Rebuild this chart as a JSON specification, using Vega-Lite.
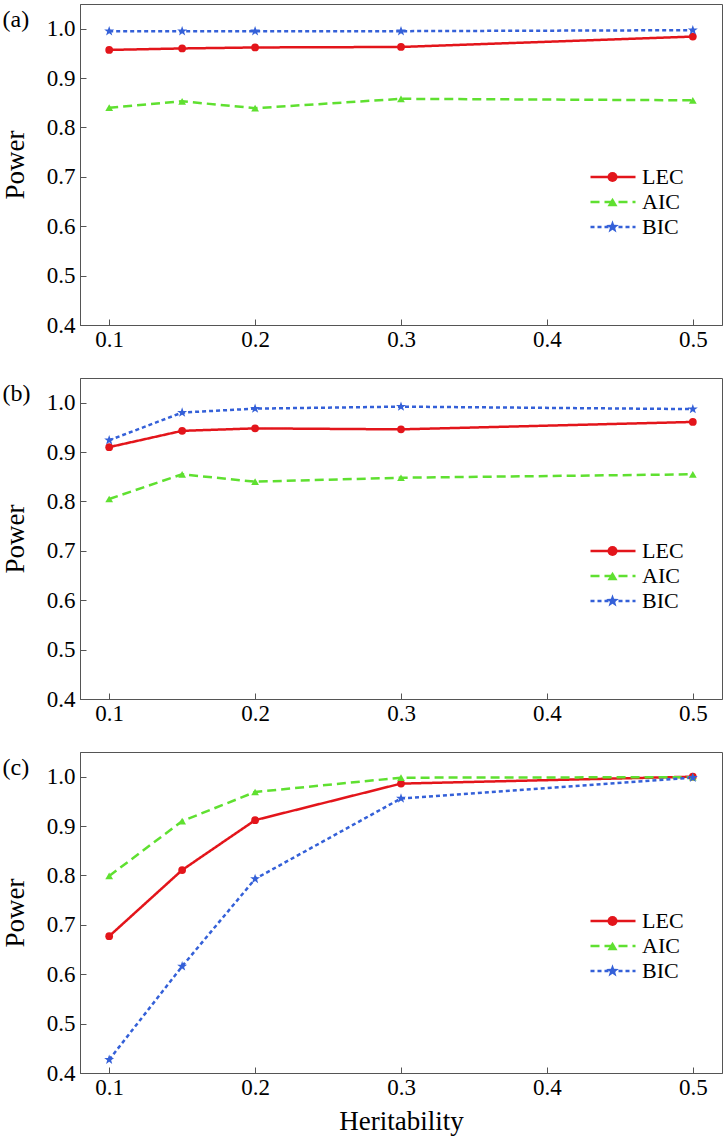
{
  "$schema": "https://vega.github.io/schema/vega-lite/v6.json",
  "padding": {"top": 3, "left": 0, "right": 0, "bottom": 3},
  "background": "white",
  "bounds": "flush",
  "spacing": 53,
  "resolve": {
    "scale": {"color": "independent", "strokeDash": "independent", "shape": "independent", "fill": "independent"},
    "legend": {"color": "independent", "strokeDash": "independent", "shape": "independent", "fill": "independent"}
  },
  "config": {
    "font": "Liberation Serif",
    "view": {"stroke": "#555555", "strokeWidth": 1},
    "axis": {
      "grid": false, "domainColor": "#555555", "tickColor": "#555555", "tickSize": -6,
      "labelFont": "Liberation Serif", "labelFontSize": 23, "labelColor": "black",
      "labelFlush": false, "labelOverlap": false,
      "titleFont": "Liberation Serif", "titleFontSize": 27, "titleFontWeight": "normal", "titleColor": "black"
    },
    "axisX": {"labelPadding": 9},
    "axisY": {"labelPadding": 11},
    "legend": {"labelFont": "Liberation Serif", "labelFontSize": 22, "labelColor": "black"}
  },
  "vconcat": [
    {
      "width": 642, "height": 321,
      "data": {"values": [
        {"h": 0.1, "method": "LEC", "order": 1, "power": 0.957},
        {"h": 0.15, "method": "LEC", "order": 1, "power": 0.960},
        {"h": 0.2, "method": "LEC", "order": 1, "power": 0.962},
        {"h": 0.3, "method": "LEC", "order": 1, "power": 0.963},
        {"h": 0.5, "method": "LEC", "order": 1, "power": 0.984},
        {"h": 0.1, "method": "AIC", "order": 2, "power": 0.840},
        {"h": 0.15, "method": "AIC", "order": 2, "power": 0.853},
        {"h": 0.2, "method": "AIC", "order": 2, "power": 0.839},
        {"h": 0.3, "method": "AIC", "order": 2, "power": 0.858},
        {"h": 0.5, "method": "AIC", "order": 2, "power": 0.855},
        {"h": 0.1, "method": "BIC", "order": 3, "power": 0.995},
        {"h": 0.15, "method": "BIC", "order": 3, "power": 0.995},
        {"h": 0.2, "method": "BIC", "order": 3, "power": 0.995},
        {"h": 0.3, "method": "BIC", "order": 3, "power": 0.995},
        {"h": 0.5, "method": "BIC", "order": 3, "power": 0.997}
      ]},
      "resolve": {"axis": {"x": "independent"}},
      "layer": [
        {
          "mark": {"type": "line", "strokeWidth": 2.5},
          "encoding": {
            "x": {"field": "h", "type": "quantitative", "scale": {"domain": [0.08, 0.52], "nice": false, "zero": false}, "axis": {"values": [0.1, 0.2, 0.3, 0.4, 0.5], "format": ".1f"}, "title": null},
            "y": {"field": "power", "type": "quantitative", "scale": {"domain": [0.4, 1.05], "nice": false, "zero": false}, "axis": {"values": [0.4, 0.5, 0.6, 0.7, 0.8, 0.9, 1.0], "format": ".1f", "titlePadding": 17}, "title": "Power"},
            "color": {"field": "method", "type": "nominal", "scale": {"domain": ["LEC", "AIC", "BIC"], "range": ["#e3151b", "#5fe030", "#3460d8"]},
              "legend": {"orient": "none", "legendX": 522, "legendY": 162, "title": null, "symbolType": "M-2.5,0L2.5,0", "symbolSize": 324, "symbolStrokeWidth": 2.5, "labelOffset": 18, "rowPadding": 3}},
            "strokeDash": {"field": "method", "type": "nominal", "scale": {"domain": ["LEC", "AIC", "BIC"], "range": [[1, 0], [9, 5], [4, 3]]}}
          }
        },
        {
          "mark": {"type": "point", "filled": true, "size": 60, "opacity": 1, "strokeWidth": 0},
          "encoding": {
            "x": {"field": "h", "type": "quantitative", "axis": {"orient": "top", "labels": false, "ticks": false, "domain": false, "title": "(a)", "titleX": -78, "titleY": 22, "titleAngle": 0, "titleAlign": "left", "titleBaseline": "alphabetic", "titleFontSize": 24}},
            "y": {"field": "power", "type": "quantitative"},
            "fill": {"field": "method", "type": "nominal", "sort": {"field": "order", "op": "min"}, "scale": {"range": ["#e3151b", "#5fe030", "#3460d8"]},
              "legend": {"orient": "none", "legendX": 521.5, "legendY": 162, "title": null, "labelExpr": "''", "rowPadding": 3, "symbolStrokeWidth": 0}},
            "shape": {"field": "method", "type": "nominal", "sort": {"field": "order", "op": "min"}, "scale": {"range": ["circle", "triangle-up", "M0,-1.35L0.317,-0.437L1.284,-0.417L0.513,0.167L0.794,1.092L0,0.54L-0.794,1.092L-0.513,0.167L-1.284,-0.417L-0.317,-0.437Z"]}}
          }
        }
      ]
    },
    {
      "width": 642, "height": 321,
      "data": {"values": [
        {"h": 0.1, "method": "LEC", "order": 1, "power": 0.910},
        {"h": 0.15, "method": "LEC", "order": 1, "power": 0.943},
        {"h": 0.2, "method": "LEC", "order": 1, "power": 0.948},
        {"h": 0.3, "method": "LEC", "order": 1, "power": 0.946},
        {"h": 0.5, "method": "LEC", "order": 1, "power": 0.961},
        {"h": 0.1, "method": "AIC", "order": 2, "power": 0.805},
        {"h": 0.15, "method": "AIC", "order": 2, "power": 0.855},
        {"h": 0.2, "method": "AIC", "order": 2, "power": 0.840},
        {"h": 0.3, "method": "AIC", "order": 2, "power": 0.848},
        {"h": 0.5, "method": "AIC", "order": 2, "power": 0.855},
        {"h": 0.1, "method": "BIC", "order": 3, "power": 0.924},
        {"h": 0.15, "method": "BIC", "order": 3, "power": 0.980},
        {"h": 0.2, "method": "BIC", "order": 3, "power": 0.988},
        {"h": 0.3, "method": "BIC", "order": 3, "power": 0.992},
        {"h": 0.5, "method": "BIC", "order": 3, "power": 0.987}
      ]},
      "resolve": {"axis": {"x": "independent"}},
      "layer": [
        {
          "mark": {"type": "line", "strokeWidth": 2.5},
          "encoding": {
            "x": {"field": "h", "type": "quantitative", "scale": {"domain": [0.08, 0.52], "nice": false, "zero": false}, "axis": {"values": [0.1, 0.2, 0.3, 0.4, 0.5], "format": ".1f"}, "title": null},
            "y": {"field": "power", "type": "quantitative", "scale": {"domain": [0.4, 1.05], "nice": false, "zero": false}, "axis": {"values": [0.4, 0.5, 0.6, 0.7, 0.8, 0.9, 1.0], "format": ".1f", "titlePadding": 17}, "title": "Power"},
            "color": {"field": "method", "type": "nominal", "scale": {"domain": ["LEC", "AIC", "BIC"], "range": ["#e3151b", "#5fe030", "#3460d8"]},
              "legend": {"orient": "none", "legendX": 522, "legendY": 162, "title": null, "symbolType": "M-2.5,0L2.5,0", "symbolSize": 324, "symbolStrokeWidth": 2.5, "labelOffset": 18, "rowPadding": 3}},
            "strokeDash": {"field": "method", "type": "nominal", "scale": {"domain": ["LEC", "AIC", "BIC"], "range": [[1, 0], [9, 5], [4, 3]]}}
          }
        },
        {
          "mark": {"type": "point", "filled": true, "size": 60, "opacity": 1, "strokeWidth": 0},
          "encoding": {
            "x": {"field": "h", "type": "quantitative", "axis": {"orient": "top", "labels": false, "ticks": false, "domain": false, "title": "(b)", "titleX": -78, "titleY": 22, "titleAngle": 0, "titleAlign": "left", "titleBaseline": "alphabetic", "titleFontSize": 24}},
            "y": {"field": "power", "type": "quantitative"},
            "fill": {"field": "method", "type": "nominal", "sort": {"field": "order", "op": "min"}, "scale": {"range": ["#e3151b", "#5fe030", "#3460d8"]},
              "legend": {"orient": "none", "legendX": 521.5, "legendY": 162, "title": null, "labelExpr": "''", "rowPadding": 3, "symbolStrokeWidth": 0}},
            "shape": {"field": "method", "type": "nominal", "sort": {"field": "order", "op": "min"}, "scale": {"range": ["circle", "triangle-up", "M0,-1.35L0.317,-0.437L1.284,-0.417L0.513,0.167L0.794,1.092L0,0.54L-0.794,1.092L-0.513,0.167L-1.284,-0.417L-0.317,-0.437Z"]}}
          }
        }
      ]
    },
    {
      "width": 642, "height": 321,
      "data": {"values": [
        {"h": 0.1, "method": "LEC", "order": 1, "power": 0.677},
        {"h": 0.15, "method": "LEC", "order": 1, "power": 0.811},
        {"h": 0.2, "method": "LEC", "order": 1, "power": 0.912},
        {"h": 0.3, "method": "LEC", "order": 1, "power": 0.986},
        {"h": 0.5, "method": "LEC", "order": 1, "power": 1.0},
        {"h": 0.1, "method": "AIC", "order": 2, "power": 0.799},
        {"h": 0.15, "method": "AIC", "order": 2, "power": 0.910},
        {"h": 0.2, "method": "AIC", "order": 2, "power": 0.969},
        {"h": 0.3, "method": "AIC", "order": 2, "power": 0.998},
        {"h": 0.5, "method": "AIC", "order": 2, "power": 0.999},
        {"h": 0.1, "method": "BIC", "order": 3, "power": 0.427},
        {"h": 0.15, "method": "BIC", "order": 3, "power": 0.616},
        {"h": 0.2, "method": "BIC", "order": 3, "power": 0.793},
        {"h": 0.3, "method": "BIC", "order": 3, "power": 0.956},
        {"h": 0.5, "method": "BIC", "order": 3, "power": 0.998}
      ]},
      "resolve": {"axis": {"x": "independent"}},
      "layer": [
        {
          "mark": {"type": "line", "strokeWidth": 2.5},
          "encoding": {
            "x": {"field": "h", "type": "quantitative", "scale": {"domain": [0.08, 0.52], "nice": false, "zero": false}, "axis": {"values": [0.1, 0.2, 0.3, 0.4, 0.5], "format": ".1f", "titlePadding": 9}, "title": "Heritability"},
            "y": {"field": "power", "type": "quantitative", "scale": {"domain": [0.4, 1.05], "nice": false, "zero": false}, "axis": {"values": [0.4, 0.5, 0.6, 0.7, 0.8, 0.9, 1.0], "format": ".1f", "titlePadding": 17}, "title": "Power"},
            "color": {"field": "method", "type": "nominal", "scale": {"domain": ["LEC", "AIC", "BIC"], "range": ["#e3151b", "#5fe030", "#3460d8"]},
              "legend": {"orient": "none", "legendX": 522, "legendY": 158, "title": null, "symbolType": "M-2.5,0L2.5,0", "symbolSize": 324, "symbolStrokeWidth": 2.5, "labelOffset": 18, "rowPadding": 3}},
            "strokeDash": {"field": "method", "type": "nominal", "scale": {"domain": ["LEC", "AIC", "BIC"], "range": [[1, 0], [9, 5], [4, 3]]}}
          }
        },
        {
          "mark": {"type": "point", "filled": true, "size": 60, "opacity": 1, "strokeWidth": 0},
          "encoding": {
            "x": {"field": "h", "type": "quantitative", "axis": {"orient": "top", "labels": false, "ticks": false, "domain": false, "title": "(c)", "titleX": -78, "titleY": 22, "titleAngle": 0, "titleAlign": "left", "titleBaseline": "alphabetic", "titleFontSize": 24}},
            "y": {"field": "power", "type": "quantitative"},
            "fill": {"field": "method", "type": "nominal", "sort": {"field": "order", "op": "min"}, "scale": {"range": ["#e3151b", "#5fe030", "#3460d8"]},
              "legend": {"orient": "none", "legendX": 521.5, "legendY": 158, "title": null, "labelExpr": "''", "rowPadding": 3, "symbolStrokeWidth": 0}},
            "shape": {"field": "method", "type": "nominal", "sort": {"field": "order", "op": "min"}, "scale": {"range": ["circle", "triangle-up", "M0,-1.35L0.317,-0.437L1.284,-0.417L0.513,0.167L0.794,1.092L0,0.54L-0.794,1.092L-0.513,0.167L-1.284,-0.417L-0.317,-0.437Z"]}}
          }
        }
      ]
    }
  ]
}
